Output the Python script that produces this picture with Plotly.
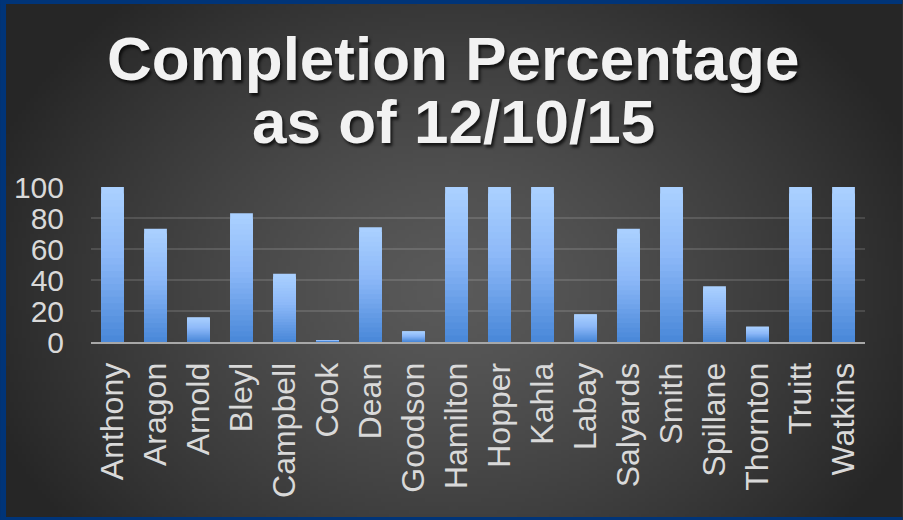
import base64, zlib, struct
import numpy as np
import plotly.graph_objects as go

# ---- data ----
names = ["Anthony", "Aragon", "Arnold", "Bleyl", "Campbell", "Cook", "Dean", "Goodson",
         "Hamilton", "Hopper", "Kahla", "Labay", "Salyards", "Smith", "Spillane",
         "Thornton", "Truitt", "Watkins"]
completion = [100, 73, 16, 83, 44, 1, 74, 7, 100, 100, 100, 18, 73, 100, 36, 10, 100, 100]
y_ticks = [0, 20, 40, 60, 80, 100]
title_line1 = "Completion Percentage"
title_line2 = "as of 12/10/15"

W, H = 903, 520
ML, MR, MT, MB = 91, 37.5, 187, 178
PW, PH = W - ML - MR, H - MT - MB

# ---- background gradient image (style only) ----
def png_data_uri(arr):
    h, w, _ = arr.shape
    raw = b"".join(b"\x00" + arr[i].tobytes() for i in range(h))
    def chunk(t, d):
        c = struct.pack(">I", len(d)) + t + d
        return c + struct.pack(">I", zlib.crc32(t + d) & 0xffffffff)
    png = (b"\x89PNG\r\n\x1a\n" + chunk(b"IHDR", struct.pack(">IIBBBBB", w, h, 8, 2, 0, 0, 0))
           + chunk(b"IDAT", zlib.compress(raw, 9)) + chunk(b"IEND", b""))
    return "data:image/png;base64," + base64.b64encode(png).decode()

gw, gh = 226, 130
yy, xx = np.mgrid[0:gh, 0:gw]
cx, cy = gw * 0.5, gh * 0.55
d = np.sqrt(((xx - cx) / (gw * 0.55)) ** 2 + ((yy - cy) / (gh * 0.75)) ** 2)
d = np.clip(d, 0, 1)
val = 90 - (90 - 38) * d ** 1.3
bg = np.repeat(val[:, :, None], 3, axis=2).astype(np.uint8)
bg_uri = png_data_uri(bg)

# ---- bars with vertical gradient via overlaid layers ----
def lerp(c1, c2, t):
    return tuple(int(round(a + (b - a) * t)) for a, b in zip(c1, c2))

stops = [(0.0, (171, 209, 255)), (0.45, (140, 184, 248)), (1.0, (72, 135, 216))]
def grad(t):
    for (t0, c0), (t1, c1) in zip(stops[:-1], stops[1:]):
        if t <= t1:
            return lerp(c0, c1, (t - t0) / (t1 - t0))
    return stops[-1][1]

fig = go.Figure()
N = 24
for k in range(N):
    f = 1 - k / N
    t = (k + 0.5) / N
    c = grad(t)
    fig.add_trace(go.Bar(
        x=names, y=[v * f for v in completion],
        marker=dict(color=f"rgb{c}", line=dict(width=0)),
        hoverinfo="skip" if k else None, showlegend=False,
    ))

xtick_font = dict(family="Liberation Sans, Arial, sans-serif", size=32, color="#d9d9d9")
ytick_font = dict(family="Liberation Sans, Arial, sans-serif", size=30, color="#d9d9d9")
fig.update_layout(
    width=W, height=H,
    margin=dict(l=ML, r=MR, t=MT, b=MB),
    paper_bgcolor="#3e3e3e",
    plot_bgcolor="rgba(0,0,0,0)",
    barmode="overlay",
    bargap=0.47,
    xaxis=dict(tickangle=-90, tickfont=xtick_font, showgrid=False, showline=True,
               linecolor="#a8a8a8", linewidth=2, ticks="", ticklabelstandoff=6,
               automargin=False),
    yaxis=dict(range=[0, 100], tickvals=y_ticks, tickfont=ytick_font, showgrid=True,
               gridcolor="rgba(255,255,255,0.13)", gridwidth=1.5, zeroline=False,
               showline=False, ticks="", ticklabelstandoff=26, automargin=False),
    images=[dict(source=bg_uri, xref="paper", yref="paper",
                 x=-ML / PW, y=(H - MB) / PH, sizex=W / PW, sizey=H / PH,
                 xanchor="left", yanchor="top", sizing="stretch", layer="below")],
)

title_font = dict(family="Liberation Sans, Arial, sans-serif", size=62, color="#f2f2f2",
                  weight="bold", shadow="2px 3px 3px rgba(0,0,0,0.7)")
for txt, py in [(title_line1, 58), (title_line2, 122)]:
    fig.add_annotation(text=txt, xref="paper", yref="paper",
                       x=(W / 2 + 2 - ML) / PW, y=(H - MB - py) / PH,
                       xanchor="center", yanchor="middle", showarrow=False,
                       font=title_font)

# blue frame
for x0, y0, x1, y1 in [(0, 0, 6, H), (0, 0, W, 4), (0, H - 3, W, H)]:
    fig.add_shape(type="rect", xref="paper", yref="paper",
                  x0=(x0 - ML) / PW, x1=(x1 - ML) / PW,
                  y0=(H - MB - y1) / PH, y1=(H - MB - y0) / PH,
                  fillcolor="#003478", line=dict(width=0), layer="above")

fig.write_html("out.html", config={"displayModeBar": False},
               post_script="document.body.style.margin='0';document.body.style.overflow='hidden';")
